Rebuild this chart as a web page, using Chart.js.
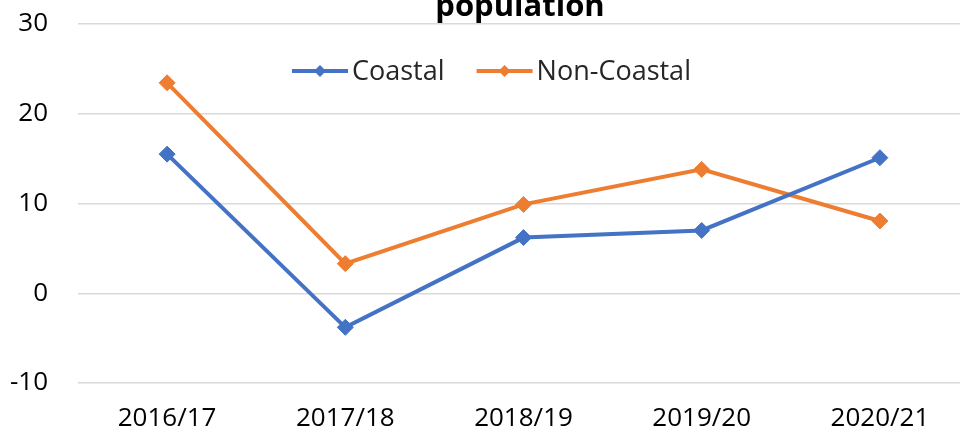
<!DOCTYPE html>
<html>
<head>
<meta charset="utf-8">
<script src="https://cdn.jsdelivr.net/npm/chart.js@4/dist/chart.umd.min.js"></script>
<style>
  html, body { margin: 0; padding: 0; background: #fff; overflow: hidden; width: 960px; height: 435px; }
  #wrap { position: absolute; left: 0; top: 0; width: 978px; height: 435px; }
  canvas { display: block; }
</style>
</head>
<body>
<div id="wrap"><canvas id="c" width="978" height="435"></canvas></div>
<script>
const categories = ['2016/17', '2017/18', '2018/19', '2019/20', '2020/21'];
const coastal = [15.5, -3.8, 6.2, 7.0, 15.1];
const nonCoastal = [23.45, 3.3, 9.9, 13.8, 8.05];
const seriesNames = ['Coastal', 'Non-Coastal'];
const titleText = 'population';
const yTicks = { min: -10, max: 30, step: 10 };

const BLUE = '#4472C4';
const ORANGE = '#ED7D31';
const FONT = "'Open Sans', 'Liberation Sans', sans-serif";

const overlay = {
  id: 'overlay',
  afterDraw(chart) {
    const ctx = chart.ctx;
    ctx.save();
    ctx.fillStyle = '#000';
    ctx.font = 'bold 31px ' + FONT;
    ctx.textAlign = 'center';
    ctx.textBaseline = 'alphabetic';
    ctx.fillText(titleText, 520, 16);

    ctx.font = '27px ' + FONT;
    ctx.textAlign = 'left';
    ctx.textBaseline = 'middle';
    const colors = [BLUE, ORANGE];
    let x = 292;
    const y = 71;
    seriesNames.forEach((name, i) => {
      ctx.strokeStyle = colors[i];
      ctx.fillStyle = colors[i];
      ctx.lineWidth = 4;
      ctx.beginPath();
      ctx.moveTo(x, y);
      ctx.lineTo(x + 56, y);
      ctx.stroke();
      const cx = x + 28, r = 6;
      ctx.beginPath();
      ctx.moveTo(cx, y - r); ctx.lineTo(cx + r, y); ctx.lineTo(cx, y + r); ctx.lineTo(cx - r, y);
      ctx.closePath();
      ctx.fill();
      ctx.fillStyle = '#262626';
      ctx.fillText(name, x + 60, y + 1);
      x += 60 + ctx.measureText(name).width + 32;
    });
    ctx.restore();
  }
};

new Chart(document.getElementById('c'), {
  type: 'line',
  data: {
    labels: categories,
    datasets: [
      { label: seriesNames[0], data: coastal, borderColor: BLUE, backgroundColor: BLUE,
        borderWidth: 4, pointStyle: 'rectRot', pointRadius: 8, pointBorderWidth: 1,
        pointBackgroundColor: BLUE, pointBorderColor: BLUE, tension: 0 },
      { label: seriesNames[1], data: nonCoastal, borderColor: ORANGE, backgroundColor: ORANGE,
        borderWidth: 4, pointStyle: 'rectRot', pointRadius: 8, pointBorderWidth: 1,
        pointBackgroundColor: ORANGE, pointBorderColor: ORANGE, tension: 0 }
    ]
  },
  options: {
    responsive: false,
    animation: false,
    layout: { padding: { top: 24, right: 1, left: 0, bottom: 0 } },
    plugins: { legend: { display: false }, title: { display: false }, tooltip: { enabled: false } },
    scales: {
      x: {
        offset: true,
        grid: { display: false, drawTicks: false },
        border: { display: false },
        ticks: { color: '#000', font: { family: FONT, size: 26 }, padding: 20, maxRotation: 0 },
        afterFit(scale) { scale.height = 52; scale.paddingLeft = 0; scale.paddingRight = 0; }
      },
      y: {
        min: yTicks.min, max: yTicks.max,
        grid: { color: '#d9d9d9', lineWidth: 1.5, drawTicks: false },
        border: { display: false },
        ticks: { stepSize: yTicks.step, color: '#000', font: { family: FONT, size: 26 }, padding: 30 },
        afterFit(scale) { scale.width = 78; scale.paddingTop = 0; scale.paddingBottom = 0; }
      }
    }
  },
  plugins: [overlay]
});
</script>
</body>
</html>
